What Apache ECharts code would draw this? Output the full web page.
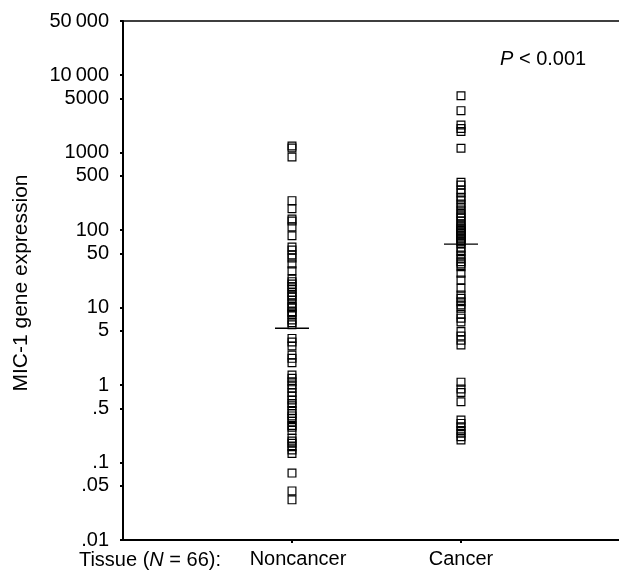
<!DOCTYPE html>
<html>
<head>
<meta charset="utf-8">
<script src="https://cdn.jsdelivr.net/npm/echarts@6/dist/echarts.min.js"></script>
<style>html,body{margin:0;padding:0;background:#fff}#c{width:619px;height:577px}</style>
</head>
<body>
<div id="c"></div>
<script>
var categories = ['Noncancer', 'Cancer'];
var noncancer = [1219,1148,879,240,189,139,131,110,84.7,60.5,55.4,47.7,43.6,36.5,29.9,23.4,21.6,20.1,18.6,17.4,15.6,14.5,13.7,12.5,11.4,10.3,9.9,8.85,8.5,8.0,6.9,6.4,6.0,4.0,3.6,3.2,2.44,2.21,1.94,1.35,1.22,1.10,1.0,0.91,0.80,0.72,0.64,0.58,0.54,0.47,0.43,0.40,0.37,0.34,0.30,0.285,0.26,0.206,0.19,0.177,0.16,0.145,0.131,0.073,0.043,0.033];
var cancer = [5433,3483,2275,2050,1875,1138,414,382,330,301,265,245,217,199,182,165,152,143,131,120,113,107,103,99.5,94.6,91,86.5,84,79,76.8,72.4,70.3,66.8,58.2,52.6,47.7,43.3,39.1,36.5,33.7,27.7,22.7,17.7,14.5,13.2,11.9,10.8,9.8,8.2,7.3,6.5,4.9,4.3,3.8,3.3,1.09,0.89,0.80,0.61,0.354,0.32,0.29,0.26,0.238,0.215,0.195];
var medians = [5.4, 66];
var tickValues = [50000,10000,5000,1000,500,100,50,10,5,1,0.5,0.1,0.05,0.01];
var tickLabels = ['50\u2009000','10\u2009000','5000','1000','500','100','50','10','5','1','.5','.1','.05','.01'];

var FONT = "'Liberation Sans', Arial, Helvetica, sans-serif";
var logTicks = tickValues.map(function (v) { return Math.log10(v); });
var yMin = Math.log10(0.01), yMax = Math.log10(50000);
var xMax = 2.935;

function pts(arr, x) { return arr.map(function (v) { return [x, Math.log10(v)]; }); }

var chart = echarts.init(document.getElementById('c'), null, {renderer: 'canvas'});
chart.setOption({
  animation: false,
  backgroundColor: '#fff',
  textStyle: {fontFamily: FONT},
  grid: {left: 123, right: 0, top: 21, bottom: 37},
  xAxis: [{
    type: 'value', min: 0, max: xMax, position: 'bottom',
    axisLine: {show: true, onZero: false, lineStyle: {color: '#000', width: 2}},
    axisTick: {show: true, customValues: [1, 2], length: 3, lineStyle: {color: '#000', width: 2}},
    axisLabel: {
      show: true, customValues: [1, 2], margin: 9, color: '#000', fontSize: 20, fontFamily: FONT,
      formatter: function (v) {
        var i = Math.round(v) - 1;
        return i === 0 ? '{n|' + categories[i] + '}' : '{c|' + categories[i] + '}';
      },
      rich: {
        n: {fontSize: 20, fontFamily: FONT, color: '#000', padding: [0, 0, 0, 12]},
        c: {fontSize: 20, fontFamily: FONT, color: '#000'}
      }
    },
    splitLine: {show: false}
  }, {
    type: 'value', min: 0, max: xMax, position: 'top',
    axisLine: {show: true, onZero: false, lineStyle: {color: '#000', width: 1.6}},
    axisTick: {show: false}, axisLabel: {show: false}, splitLine: {show: false}
  }],
  yAxis: {
    type: 'value', min: yMin, max: yMax,
    axisLine: {show: true, onZero: false, lineStyle: {color: '#000', width: 2}},
    axisTick: {show: true, customValues: logTicks, length: 3, lineStyle: {color: '#000', width: 2}},
    axisLabel: {
      show: true, customValues: logTicks, margin: 14, color: '#000', fontSize: 20, fontFamily: FONT,
      formatter: function (v) {
        for (var i = 0; i < logTicks.length; i++) {
          if (Math.abs(logTicks[i] - v) < 1e-6) return tickLabels[i];
        }
        return '';
      }
    },
    splitLine: {show: false}
  },
  series: [{
    type: 'scatter', name: categories[0], data: pts(noncancer, 1),
    symbol: 'rect', symbolSize: 7.8,
    itemStyle: {color: 'rgba(0,0,0,0)', borderColor: '#000', borderWidth: 1.2, opacity: 1},
    silent: true
  }, {
    type: 'scatter', name: categories[1], data: pts(cancer, 2),
    symbol: 'rect', symbolSize: 7.8,
    itemStyle: {color: 'rgba(0,0,0,0)', borderColor: '#000', borderWidth: 1.2, opacity: 1},
    silent: true
  }, {
    type: 'scatter', name: 'median',
    data: medians.map(function (m, i) { return [i + 1, Math.log10(m)]; }),
    symbol: 'rect', symbolSize: [34, 1.4],
    itemStyle: {color: '#000', opacity: 1},
    silent: true, z: 3
  }],
  graphic: [{
    type: 'text', x: 21, y: 283, rotation: Math.PI / 2,
    style: {text: 'MIC-1 gene expression', fill: '#000', fontSize: 21, fontFamily: FONT,
      align: 'center', verticalAlign: 'middle', textAlign: 'center', textVerticalAlign: 'middle'}
  }, {
    type: 'text', x: 221, y: 560,
    style: {
      text: '{a|Tissue (}{i|N}{a| = 66):}', fill: '#000',
      align: 'right', verticalAlign: 'middle', textAlign: 'right', textVerticalAlign: 'middle',
      rich: {
        a: {fontSize: 20, fontFamily: FONT, fill: '#000', color: '#000'},
        i: {fontSize: 20, fontFamily: FONT, fontStyle: 'italic', fill: '#000', color: '#000'}
      }
    }
  }, {
    type: 'text', x: 500, y: 59,
    style: {
      text: '{i|P}{a| < 0.001}', fill: '#000',
      align: 'left', verticalAlign: 'middle', textAlign: 'left', textVerticalAlign: 'middle',
      rich: {
        a: {fontSize: 20, fontFamily: FONT, fill: '#000', color: '#000'},
        i: {fontSize: 20, fontFamily: FONT, fontStyle: 'italic', fill: '#000', color: '#000'}
      }
    }
  }]
});
</script>
</body>
</html>
